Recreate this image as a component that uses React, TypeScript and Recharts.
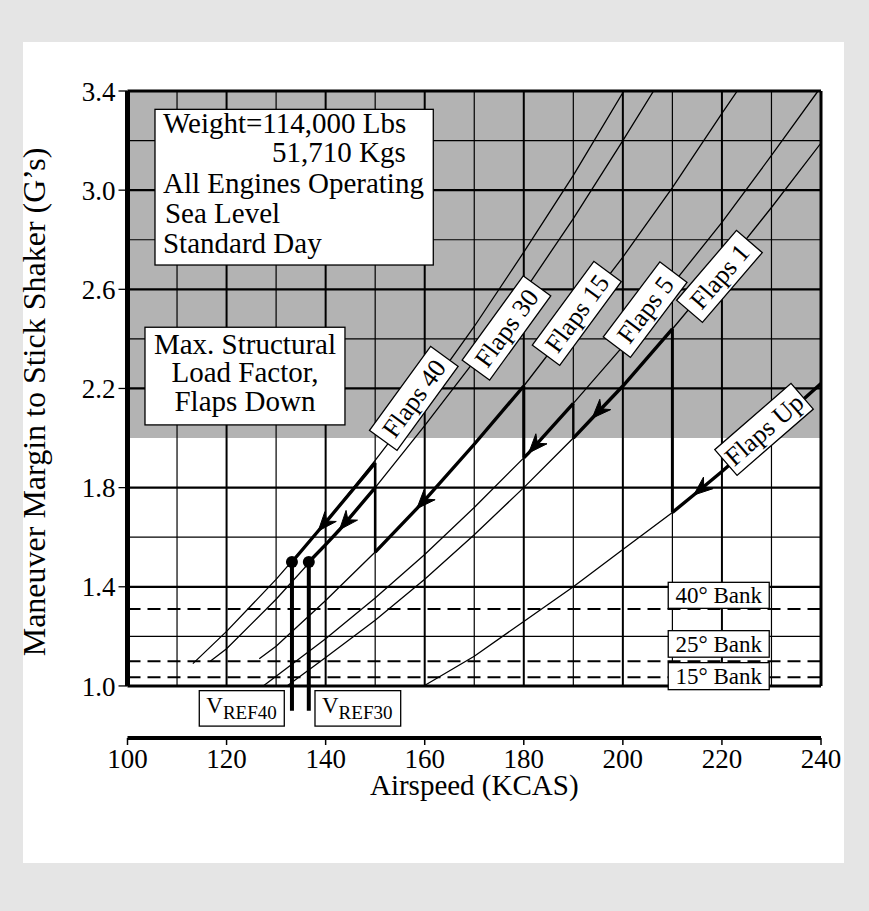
import React from 'react';
import {
  ComposedChart,
  XAxis,
  YAxis,
  Line,
  ReferenceLine,
  ReferenceArea,
  ReferenceDot,
} from 'recharts';

const FONT = '"Liberation Serif", "Times New Roman", Times, serif';

// ---------- axis ticks / grid ----------
const xTicks = [100, 120, 140, 160, 180, 200, 220, 240];
const yTicks = [1.0, 1.4, 1.8, 2.2, 2.6, 3.0, 3.4];
const minorXGrid = [110, 130, 150, 170, 190, 210, 230];
const majorXGrid = [120, 140, 160, 180, 200, 220];
const minorYGrid = [1.2, 1.6, 2.4, 2.8, 3.2];
const majorYGrid = [1.4, 1.8, 2.2, 2.6, 3.0];

// ---------- thin flap curves (KCAS, G) ----------
const flaps40 = [
  { v: 113.2, g: 1.09 }, { v: 120, g: 1.22 }, { v: 130, g: 1.43 }, { v: 140, g: 1.66 },
  { v: 150, g: 1.91 }, { v: 160, g: 2.17 }, { v: 170, g: 2.45 }, { v: 180, g: 2.75 },
  { v: 190, g: 3.06 }, { v: 200.2, g: 3.4 },
];
const flaps30 = [
  { v: 116.7, g: 1.1 }, { v: 120, g: 1.15 }, { v: 130, g: 1.35 }, { v: 140, g: 1.57 },
  { v: 150, g: 1.8 }, { v: 160, g: 2.05 }, { v: 170, g: 2.31 }, { v: 180, g: 2.59 },
  { v: 190, g: 2.885 }, { v: 200, g: 3.2 }, { v: 206.2, g: 3.4 },
];
const flaps15 = [
  { v: 126.6, g: 1.11 }, { v: 130, g: 1.16 }, { v: 140, g: 1.345 }, { v: 150, g: 1.54 },
  { v: 160, g: 1.75 }, { v: 170, g: 1.975 }, { v: 180, g: 2.21 }, { v: 190, g: 2.47 },
  { v: 200, g: 2.73 }, { v: 210, g: 3.01 }, { v: 220, g: 3.31 }, { v: 223.1, g: 3.4 },
];
const flaps5 = [
  { v: 127.4, g: 1.0 }, { v: 140, g: 1.19 }, { v: 150, g: 1.355 }, { v: 160, g: 1.53 },
  { v: 170, g: 1.72 }, { v: 180, g: 1.92 }, { v: 190, g: 2.14 }, { v: 200, g: 2.37 },
  { v: 210, g: 2.62 }, { v: 220, g: 2.87 }, { v: 230, g: 3.14 }, { v: 239.4, g: 3.4 },
];
const flaps1 = [
  { v: 132.2, g: 1.0 }, { v: 140, g: 1.115 }, { v: 150, g: 1.265 }, { v: 160, g: 1.43 },
  { v: 170, g: 1.61 }, { v: 180, g: 1.8 }, { v: 190, g: 2.0 }, { v: 200, g: 2.21 },
  { v: 210, g: 2.44 }, { v: 220, g: 2.68 }, { v: 230, g: 2.93 }, { v: 240, g: 3.19 },
];
const flapsUp = [
  { v: 159.8, g: 1.0 }, { v: 170, g: 1.12 }, { v: 180, g: 1.26 }, { v: 190, g: 1.4 },
  { v: 200, g: 1.55 }, { v: 210, g: 1.7 }, { v: 220, g: 1.865 }, { v: 230, g: 2.04 },
  { v: 240, g: 2.22 },
];
const thinCurves = [flaps40, flaps30, flaps15, flaps5, flaps1, flapsUp];

// ---------- heavy flap-extension path ----------
const heavyUp = [
  { v: 240, g: 2.22 }, { v: 230, g: 2.04 }, { v: 220, g: 1.865 },
  { v: 214.3, g: 1.77, arrow: true }, { v: 210, g: 1.7 },
];
const drop210 = [{ v: 210, g: 1.7 }, { v: 210, g: 2.44 }];
const heavy1 = [
  { v: 210, g: 2.44 }, { v: 200, g: 2.21 }, { v: 193.8, g: 2.08, arrow: true }, { v: 190, g: 2.0 },
];
const drop190 = [{ v: 190, g: 2.0 }, { v: 190, g: 2.14 }];
const heavy5 = [{ v: 190, g: 2.14 }, { v: 181, g: 1.94, arrow: true }, { v: 180, g: 1.92 }];
const drop180 = [{ v: 180, g: 1.92 }, { v: 180, g: 2.21 }];
const heavy15 = [
  { v: 180, g: 2.21 }, { v: 170, g: 1.975 }, { v: 160, g: 1.75 },
  { v: 158.4, g: 1.715, arrow: true }, { v: 150, g: 1.54 },
];
const drop150 = [{ v: 150, g: 1.54 }, { v: 150, g: 1.9 }];
const heavy30 = [
  { v: 150, g: 1.8 }, { v: 142.8, g: 1.63, arrow: true }, { v: 140, g: 1.57 }, { v: 136.6, g: 1.5 },
];
const heavy40 = [
  { v: 150, g: 1.9 }, { v: 140, g: 1.66 }, { v: 138.5, g: 1.625, arrow: true }, { v: 133.2, g: 1.5 },
];
const vref40Line = [{ v: 133.2, g: 1.5 }, { v: 133.2, g: 0.9 }];
const vref30Line = [{ v: 136.6, g: 1.5 }, { v: 136.6, g: 0.9 }];

// ---------- bank angle lines ----------
const bankLevels = [1.31, 1.1, 1.035];
const bankText = ['40° Bank', '25° Bank', '15° Bank'];

// ---------- annotation texts ----------
const weightText = ['Weight=114,000 Lbs', '51,710 Kgs', 'All Engines Operating', 'Sea Level', 'Standard Day'];
const maxText = ['Max. Structural', 'Load Factor,', 'Flaps Down'];
const flapText = ['Flaps 40', 'Flaps 30', 'Flaps 15', 'Flaps 5', 'Flaps 1', 'Flaps Up'];
const vrefText = ['REF40', 'REF30'];

// ---------- layout ----------
const W = 869;
const H = 911;
const MARGIN = { top: 91, right: 48, bottom: 133, left: 67.5 };
const YAXIS_W = 60;
const XAXIS_H = 40;
const PLOT_W = W - MARGIN.left - YAXIS_W - MARGIN.right;
const PLOT_H = H - MARGIN.top - MARGIN.bottom - XAXIS_H;
const Y_MIN = 0.79;
const PX_PER_KT = PLOT_W / 140;
const PX_PER_G = PLOT_H / (3.4 - Y_MIN);

const weightBox = { x1: 105.55, x2: 161.73, y1: 2.698, y2: 3.326 };
const weightLayout = [
  { dx: 8, dy: 24 }, { dx: 117, dy: 52.5 }, { dx: 8, dy: 84 }, { dx: 10, dy: 114 }, { dx: 8, dy: 144 },
];
const maxBox = { x1: 103.53, x2: 143.9, y1: 2.053, y2: 2.447 };
const maxLayout = [26.7, 55, 83.4];
const bankBoxX = { x1: 209.16, x2: 229.55 };
const bankBoxY = [
  { y1: 1.313, y2: 1.418 },
  { y1: 1.116, y2: 1.223 },
  { y1: 0.985, y2: 1.094 },
];
const vrefBoxes = [
  { x1: 114.49, x2: 131.65, y1: 0.838, y2: 0.981 },
  { x1: 137.85, x2: 155.15, y1: 0.838, y2: 0.981 },
];
const flapTagLayout = [
  { v: 157.8, g: 2.16, angle: 54, w: 104 },
  { v: 176.5, g: 2.444, angle: 54, w: 104 },
  { v: 190.7, g: 2.503, angle: 53.7, w: 104 },
  { v: 204.5, g: 2.518, angle: 53, w: 94 },
  { v: 219.5, g: 2.652, angle: 49.4, w: 92 },
  { v: 228.5, g: 2.035, angle: 41, w: 101 },
];

const txt = { fontFamily: FONT, fill: '#000' } as const;

const arrowDot = (props: any) => {
  const { cx, cy, index, payload, points } = props;
  const key = `d-${index}`;
  if (!payload || !payload.arrow || cx == null || cy == null) return <g key={key} />;
  let dx = 0;
  let dy = 0;
  if (points && points[index - 1]) {
    dx = cx - points[index - 1].x;
    dy = cy - points[index - 1].y;
  } else {
    dx = -PX_PER_KT;
    dy = PX_PER_G * 0.02;
  }
  const len = Math.hypot(dx, dy) || 1;
  dx /= len;
  dy /= len;
  const L = 19;
  const Wd = 7.5;
  const N = 13;
  const bx = cx - dx * L;
  const by = cy - dy * L;
  const nx = -dy;
  const ny = dx;
  const d = `M${cx},${cy}L${bx + nx * Wd},${by + ny * Wd}L${cx - dx * N},${cy - dy * N}L${bx - nx * Wd},${by - ny * Wd}Z`;
  return <path key={key} d={d} fill="#000" stroke="#000" strokeWidth={1} strokeLinejoin="miter" />;
};

const vrefDot = (props: any) => {
  const { cx, cy, index } = props;
  if (index !== 0 || cx == null) return <g key={`v-${index}`} />;
  return <circle key={`v-${index}`} cx={cx} cy={cy} r={6} fill="#000" />;
};

const weightShape = (p: any) => {
  const { x, y, width, height } = p;
  return (
    <g>
      <rect x={x} y={y} width={width} height={height} fill="#fff" stroke="#000" strokeWidth={1.3} />
      {weightText.map((t, i) => (
        <text key={i} x={x + weightLayout[i].dx} y={y + weightLayout[i].dy} fontSize={29} {...txt}>
          {t}
        </text>
      ))}
    </g>
  );
};

const maxShape = (p: any) => {
  const { x, y, width, height } = p;
  return (
    <g>
      <rect x={x} y={y} width={width} height={height} fill="#fff" stroke="#000" strokeWidth={1.3} />
      {maxText.map((t, i) => (
        <text key={i} x={x + width / 2} y={y + maxLayout[i]} fontSize={29} textAnchor="middle" {...txt}>
          {t}
        </text>
      ))}
    </g>
  );
};

const bankShape = (label: string) => (p: any) => {
  const { x, y, width, height } = p;
  return (
    <g>
      <rect x={x} y={y} width={width} height={height} fill="#fff" stroke="#000" strokeWidth={1.3} />
      <text x={x + width / 2} y={y + height / 2 + 8} fontSize={23} textAnchor="middle" {...txt}>
        {label}
      </text>
    </g>
  );
};

const vrefShape = (sub: string) => (p: any) => {
  const { x, y, width, height } = p;
  return (
    <g>
      <rect x={x} y={y} width={width} height={height} fill="#fff" stroke="#000" strokeWidth={1.3} />
      <text x={x + 7} y={y + 22} fontSize={23} {...txt}>
        V
        <tspan fontSize={19} dy={6.6}>
          {sub}
        </tspan>
      </text>
    </g>
  );
};

const flapTagShape = (label: string, angle: number, w: number) => (p: any) => {
  const { cx, cy } = p;
  if (cx == null || cy == null) return <g />;
  const h = 34;
  return (
    <g transform={`translate(${cx},${cy}) rotate(${-angle})`}>
      <rect x={-w / 2} y={-h / 2} width={w} height={h} fill="#fff" stroke="#000" strokeWidth={1.3} />
      <text x={0} y={9} fontSize={26} textAnchor="middle" {...txt}>
        {label}
      </text>
    </g>
  );
};

const xLabel = () => (
  <text x={MARGIN.left + YAXIS_W + PLOT_W / 2} y={795} fontSize={29} textAnchor="middle" {...txt}>
    Airspeed (KCAS)
  </text>
);

const yLabel = () => (
  <text transform="translate(45,402) rotate(-90)" fontSize={32} textAnchor="middle" {...txt}>
    Maneuver Margin to Stick Shaker (G’s)
  </text>
);

export default function App() {
  const lineCommon = {
    dataKey: 'g',
    type: 'linear' as const,
    stroke: '#000',
    activeDot: false,
    isAnimationActive: false,
  };
  return (
    <div style={{ position: 'absolute', left: 0, top: 0, width: W, height: H, background: '#e5e5e5' }}>
      <div style={{ position: 'absolute', left: 23, top: 42, width: 821, height: 821, background: '#fff' }} />
      <div style={{ position: 'absolute', left: 0, top: 0 }}>
        <ComposedChart width={W} height={H} margin={MARGIN}>
          <XAxis
            type="number"
            dataKey="v"
            domain={[100, 240]}
            ticks={xTicks}
            interval={0}
            height={XAXIS_H}
            axisLine={{ stroke: '#000', strokeWidth: 4 }}
            tickLine={{ stroke: '#000', strokeWidth: 1.5 }}
            tickSize={7}
            tickMargin={4}
            tick={{ fontSize: 27, fontFamily: FONT, fill: '#000' }}
            label={xLabel}
            allowDataOverflow
          />
          <YAxis
            type="number"
            domain={[Y_MIN, 3.4]}
            ticks={yTicks}
            interval={0}
            width={YAXIS_W}
            axisLine={false}
            tickLine={{ stroke: '#000', strokeWidth: 1.3 }}
            tickSize={9}
            tickMargin={3}
            tick={{ fontSize: 27, fontFamily: FONT, fill: '#000' }}
            tickFormatter={(v: number) => v.toFixed(1)}
            label={yLabel}
            allowDataOverflow
          />

          <ReferenceArea x1={100} x2={240} y1={2.0} y2={3.4} fill="#b3b3b3" fillOpacity={1} stroke="none" zIndex={100} />

          {minorXGrid.map((v) => (
            <ReferenceLine key={`mx${v}`} segment={[{ x: v, y: 1.0 }, { x: v, y: 3.4 }]} stroke="#000" strokeWidth={1.2} zIndex={300} />
          ))}
          {majorXGrid.map((v) => (
            <ReferenceLine key={`Mx${v}`} segment={[{ x: v, y: 1.0 }, { x: v, y: 3.4 }]} stroke="#000" strokeWidth={2} zIndex={300} />
          ))}
          {minorYGrid.map((g) => (
            <ReferenceLine key={`my${g}`} segment={[{ x: 100, y: g }, { x: 240, y: g }]} stroke="#000" strokeWidth={1.2} zIndex={300} />
          ))}
          {majorYGrid.map((g) => (
            <ReferenceLine key={`My${g}`} segment={[{ x: 100, y: g }, { x: 240, y: g }]} stroke="#000" strokeWidth={2.2} zIndex={300} />
          ))}
          <ReferenceLine segment={[{ x: 100, y: 3.4 }, { x: 240, y: 3.4 }]} stroke="#000" strokeWidth={3} zIndex={310} />
          <ReferenceLine segment={[{ x: 100, y: 1.0 }, { x: 240, y: 1.0 }]} stroke="#000" strokeWidth={3} zIndex={310} />
          <ReferenceLine segment={[{ x: 240, y: 1.0 }, { x: 240, y: 3.4 }]} stroke="#000" strokeWidth={3} zIndex={310} />
          <ReferenceLine segment={[{ x: 100, y: 1.0 }, { x: 100, y: 3.4 }]} stroke="#000" strokeWidth={5} zIndex={310} />

          {bankLevels.map((g) => (
            <ReferenceLine key={`b${g}`} segment={[{ x: 100, y: g }, { x: 240, y: g }]} stroke="#000" strokeWidth={2} strokeDasharray="13 7" zIndex={350} />
          ))}

          {thinCurves.map((c, i) => (
            <Line key={`c${i}`} {...lineCommon} data={c} strokeWidth={1.3} dot={false} zIndex={420} />
          ))}

          <Line {...lineCommon} data={heavyUp} strokeWidth={3.4} dot={arrowDot} zIndex={450} />
          <Line {...lineCommon} data={drop210} strokeWidth={3} dot={false} zIndex={450} />
          <Line {...lineCommon} data={heavy1} strokeWidth={3.4} dot={arrowDot} zIndex={450} />
          <Line {...lineCommon} data={drop190} strokeWidth={2.3} dot={false} zIndex={450} />
          <Line {...lineCommon} data={heavy5} strokeWidth={3.4} dot={arrowDot} zIndex={450} />
          <Line {...lineCommon} data={drop180} strokeWidth={3} dot={false} zIndex={450} />
          <Line {...lineCommon} data={heavy15} strokeWidth={3.4} dot={arrowDot} zIndex={450} />
          <Line {...lineCommon} data={drop150} strokeWidth={2.6} dot={false} zIndex={450} />
          <Line {...lineCommon} data={heavy30} strokeWidth={3.4} dot={arrowDot} zIndex={450} />
          <Line {...lineCommon} data={heavy40} strokeWidth={3.4} dot={arrowDot} zIndex={450} />
          <Line {...lineCommon} data={vref40Line} strokeWidth={4} dot={vrefDot} zIndex={460} />
          <Line {...lineCommon} data={vref30Line} strokeWidth={4} dot={vrefDot} zIndex={460} />

          <ReferenceArea {...weightBox} shape={weightShape} zIndex={700} />
          <ReferenceArea {...maxBox} shape={maxShape} zIndex={700} />
          {bankBoxY.map((b, i) => (
            <ReferenceArea key={`bb${i}`} x1={bankBoxX.x1} x2={bankBoxX.x2} y1={b.y1} y2={b.y2} shape={bankShape(bankText[i])} zIndex={700} />
          ))}
          {vrefBoxes.map((b, i) => (
            <ReferenceArea key={`vb${i}`} {...b} shape={vrefShape(vrefText[i])} zIndex={700} />
          ))}
          {flapTagLayout.map((f, i) => (
            <ReferenceDot key={`ft${i}`} x={f.v} y={f.g} r={1} shape={flapTagShape(flapText[i], f.angle, f.w)} zIndex={800} />
          ))}
        </ComposedChart>
      </div>
    </div>
  );
}
